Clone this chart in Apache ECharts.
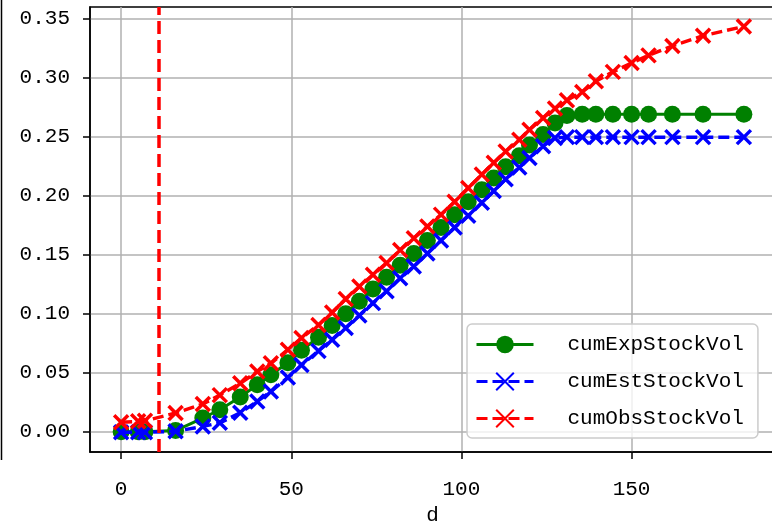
<!DOCTYPE html>
<html>
<head>
<meta charset="utf-8">
<script src="https://cdn.jsdelivr.net/npm/echarts@6/dist/echarts.min.js"></script>
<style>
html,body{margin:0;padding:0;background:#fff;}
#c{width:772px;height:522px;}
</style>
</head>
<body>
<div id="c"></div>
<script>
// ---- data ----
var days = [0, 5, 7, 16, 24, 29, 35, 40, 44, 49, 53, 58, 62, 66, 70, 74, 78, 82, 86, 90, 94, 98, 102, 106, 109.5, 113, 117, 120, 124, 127.5, 131, 135.5, 139.5, 144.5, 150, 155, 162, 171, 183];
var cumExpStockVol = [0, 0, 0, 0.001, 0.0116, 0.0186, 0.0295, 0.0398, 0.0483, 0.0585, 0.069, 0.080, 0.090, 0.100, 0.1105, 0.121, 0.131, 0.141, 0.151, 0.162, 0.173, 0.184, 0.195, 0.205, 0.215, 0.2245, 0.234, 0.243, 0.252, 0.2616, 0.268, 0.269, 0.269, 0.269, 0.269, 0.269, 0.269, 0.269, 0.269];
var cumEstStockVol = [-0.0005, -0.0005, -0.0005, 0.0003, 0.0045, 0.0075, 0.016, 0.0257, 0.034, 0.046, 0.0565, 0.0685, 0.078, 0.088, 0.0985, 0.109, 0.119, 0.130, 0.140, 0.151, 0.162, 0.173, 0.183, 0.194, 0.204, 0.214, 0.224, 0.232, 0.242, 0.249, 0.2497, 0.2497, 0.2497, 0.2497, 0.2497, 0.2497, 0.2497, 0.2497, 0.2497];
var cumObsStockVol = [0.008, 0.0088, 0.0092, 0.0158, 0.0235, 0.031, 0.041, 0.051, 0.058, 0.0695, 0.0794, 0.0905, 0.101, 0.1125, 0.123, 0.133, 0.143, 0.154, 0.164, 0.174, 0.184, 0.195, 0.2065, 0.218, 0.228, 0.2375, 0.2475, 0.256, 0.266, 0.274, 0.281, 0.288, 0.297, 0.305, 0.3125, 0.319, 0.327, 0.3356, 0.3435];
var seriesNames = ['cumExpStockVol', 'cumEstStockVol', 'cumObsStockVol'];
var xTicks = [0, 50, 100, 150];
var yTicks = [0, 0.05, 0.10, 0.15, 0.20, 0.25, 0.30, 0.35];
var vLineDay = 11;
var xLabel = 'd';

function pairs(xs, ys){ return xs.map(function(x,i){ return [x, ys[i]]; }); }

var FONT = '"Liberation Mono", "DejaVu Sans Mono", monospace';
var xPath = 'path://M0,0L10,10M10,0L0,10';

var chart = echarts.init(document.getElementById('c'), null, {renderer:'canvas'});
chart.setOption({
  backgroundColor: '#ffffff',
  animation: false,
  grid: {
    left: 90, top: 7, width: 685, height: 445,
    show: true, borderColor: '#000', borderWidth: 1.5, backgroundColor: 'transparent',
    containLabel: false, outerBoundsMode: 'none'
  },
  xAxis: {
    type: 'value', min: -9.15, max: 192.15, splitNumber: 4,
    name: xLabel, nameLocation: 'middle', nameGap: 50,
    nameTextStyle: {fontFamily: FONT, fontSize: 21, color: '#000'},
    axisLine: {show: true, onZero: false, lineStyle: {color: '#000', width: 1.5}},
    axisTick: {show: true, length: 7, inside: false, customValues: xTicks, lineStyle: {color: '#000', width: 1.5}},
    axisLabel: {customValues: xTicks, margin: 27, fontFamily: FONT, fontSize: 21, color: '#000'},
    splitLine: {show: true, lineStyle: {color: '#b0b0b0', width: 1.5}}
  },
  yAxis: {
    type: 'value', min: -0.0172, max: 0.360, splitNumber: 8,
    axisLine: {show: true, onZero: false, lineStyle: {color: '#000', width: 1.5}},
    axisTick: {show: true, length: 7, inside: false, customValues: yTicks, lineStyle: {color: '#000', width: 1.5}},
    axisLabel: {customValues: yTicks, margin: 20, fontFamily: FONT, fontSize: 21, color: '#000',
      formatter: function(v){ return v.toFixed(2); }},
    splitLine: {show: true, lineStyle: {color: '#b0b0b0', width: 1.5}}
  },
  legend: {
    show: true, orient: 'vertical', left: 467, top: 324,
    data: seriesNames,
    itemWidth: 57, itemHeight: 22, itemGap: 16,
    padding: [10, 14, 9, 8],
    lineStyle: {width: 3},
    backgroundColor: 'rgba(255,255,255,0.8)', borderColor: '#cccccc', borderWidth: 1.5, borderRadius: 5,
    textStyle: {fontFamily: FONT, fontSize: 21, color: '#000', padding: [0, 0, 0, 29]}
  },
  series: [
    {
      name: seriesNames[0], type: 'line', data: pairs(days, cumExpStockVol),
      symbol: 'circle', symbolSize: 17, showAllSymbol: true,
      itemStyle: {color: '#008000'},
      lineStyle: {color: '#008000', width: 3, type: 'solid'},
      z: 2
    },
    {
      name: seriesNames[1], type: 'line', data: pairs(days, cumEstStockVol),
      symbol: xPath, symbolSize: 14, showAllSymbol: true,
      itemStyle: {color: '#0000ff', borderColor: '#0000ff', borderWidth: 3.5},
      lineStyle: {color: '#0000ff', width: 3.5, type: [11, 5]},
      z: 3
    },
    {
      name: seriesNames[2], type: 'line', data: pairs(days, cumObsStockVol),
      symbol: xPath, symbolSize: 14, showAllSymbol: true,
      itemStyle: {color: '#ff0000', borderColor: '#ff0000', borderWidth: 3.5},
      lineStyle: {color: '#ff0000', width: 3.5, type: [11, 5]},
      z: 4,
      markLine: {
        silent: true, symbol: ['none', 'none'], label: {show: false},
        lineStyle: {color: '#ff0000', width: 3.5, type: [13, 6]},
        data: [{xAxis: vLineDay}]
      }
    }
  ],
  graphic: [
    {type: 'line', shape: {x1: 1.5, y1: 0, x2: 1.5, y2: 460}, style: {stroke: '#000', lineWidth: 1.5}, silent: true}
  ]
});
</script>
</body>
</html>
